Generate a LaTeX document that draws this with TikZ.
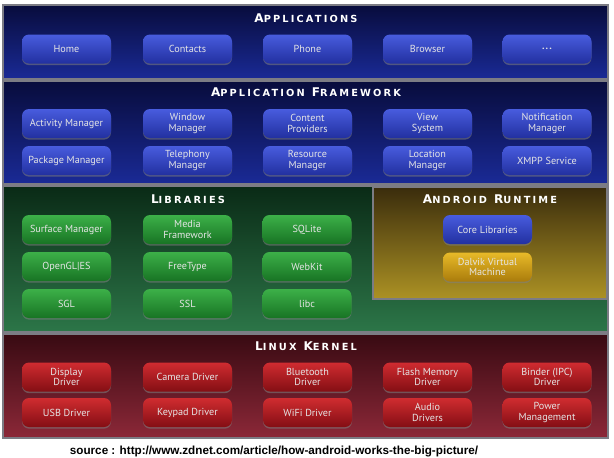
\documentclass[tikz,border=0pt]{standalone}
\usepackage{fontspec}
\setmainfont{PT Sans}
\newfontfamily\ttlfont[LetterSpace=22]{DejaVu Sans}
\newfontfamily\srcfont{Liberation Sans}
\usetikzlibrary{shadows}
\newcommand\ttlw[2]{{\ttlfont\bfseries\fontsize{12}{12}\selectfont #1\fontsize{9.8}{9.8}\selectfont #2}}
\newcommand\ttlgap{\hspace{7pt}}
\definecolor{frameg}{HTML}{7C7C84}
\tikzset{
  layer/.style={draw=frameg, line width=1.6pt},
  ttl/.style={text=white, inner sep=0pt, anchor=center},
  comp/.style={rounded corners=7pt, minimum width=89pt, minimum height=29pt, inner sep=1pt,
    text=white!90!black, align=center, font=\fontsize{10.2}{10.8}\selectfont,
    drop shadow={shadow xshift=0pt, shadow yshift=-1.6pt, opacity=0.55}},
  bluebox/.style={comp, top color={rgb,255:red,72;green,92;blue,222}, bottom color={rgb,255:red,34;green,48;blue,160}},
  greenbox/.style={comp, top color={rgb,255:red,60;green,176;blue,72}, bottom color={rgb,255:red,24;green,116;blue,36}},
  redbox/.style={comp, top color={rgb,255:red,208;green,44;blue,48}, bottom color={rgb,255:red,132;green,14;blue,20}},
  goldbox/.style={comp, top color={rgb,255:red,232;green,186;blue,40}, bottom color={rgb,255:red,170;green,124;blue,12}},
}
\begin{document}
\begin{tikzpicture}[x=1pt,y=-1pt]
\useasboundingbox (0,0) rectangle (614,458);
\fill[white] (0,0) rectangle (614,458);
% layers
\shade[layer, top color={rgb,255:red,8;green,12;blue,60}, bottom color={rgb,255:red,26;green,42;blue,150}] (3,5) rectangle (608,79);
\shade[layer, top color={rgb,255:red,8;green,12;blue,60}, bottom color={rgb,255:red,26;green,42;blue,150}] (3,81) rectangle (608,184);
\shade[layer, top color={rgb,255:red,10;green,42;blue,22}, bottom color={rgb,255:red,44;green,118;blue,72}] (3,186) rectangle (608,332);
\shade[layer, top color={rgb,255:red,58;green,44;blue,12}, bottom color={rgb,255:red,172;green,146;blue,36}] (373,187) rectangle (607,299);
\shade[layer, top color={rgb,255:red,56;green,10;blue,18}, bottom color={rgb,255:red,140;green,40;blue,56}] (3,334) rectangle (608,438);
% titles
\node[ttl] (tapp) at (306,18) {\ttlw{A}{PPLICATIONS}};
\node[ttl] (tfw) at (306,92) {\ttlw{A}{PPLICATION}\ttlgap\ttlw{F}{RAMEWORK}};
\node[ttl] (tlib) at (188,199) {\ttlw{L}{IBRARIES}};
\node[ttl] (trt) at (490,199) {\ttlw{A}{NDROID}\ttlgap\ttlw{R}{UNTIME}};
\node[ttl] (tker) at (306,346) {\ttlw{L}{INUX}\ttlgap\ttlw{K}{ERNEL}};
% applications
\node[bluebox] (home) at (66.5,49) {Home};
\node[bluebox] (contacts) at (187.5,49) {Contacts};
\node[bluebox] (phone) at (307.5,49) {Phone};
\node[bluebox] (browser) at (427.5,49) {Browser};
\node[bluebox] (more) at (547,49) {\textbf{.\hspace{1pt}.\hspace{1pt}.}};
% framework
\node[bluebox] (am) at (66.5,123.5) {Activity Manager};
\node[bluebox] (wm) at (187.5,123.5) {Window\\Manager};
\node[bluebox] (cp) at (307.5,123.5) {Content\\Providers};
\node[bluebox] (vs) at (427.5,123.5) {View\\System};
\node[bluebox] (nm) at (547,123.5) {Notification\\Manager};
\node[bluebox] (pm) at (66.5,160.5) {Package Manager};
\node[bluebox] (tm) at (187.5,160.5) {Telephony\\Manager};
\node[bluebox] (rm) at (307.5,160.5) {Resource\\Manager};
\node[bluebox] (lm) at (427.5,160.5) {Location\\Manager};
\node[bluebox] (xmpp) at (547,160.5) {XMPP Service};
% libraries
\node[greenbox] (sm) at (66.5,229.5) {Surface Manager};
\node[greenbox] (mf) at (187.5,229.5) {Media\\Framework};
\node[greenbox] (sql) at (307,229.5) {SQLite};
\node[greenbox] (gl) at (66.5,266.5) {OpenGL|ES};
\node[greenbox] (ft) at (187.5,266.5) {FreeType};
\node[greenbox] (wk) at (307,266.5) {WebKit};
\node[greenbox] (sgl) at (66.5,303.5) {SGL};
\node[greenbox] (ssl) at (187.5,303.5) {SSL};
\node[greenbox] (libc) at (307,303.5) {libc};
% runtime
\node[bluebox] (core) at (487.5,229.5) {Core Libraries};
\node[goldbox] (dvm) at (487.5,267) {Dalvik Virtual\\Machine};
% kernel
\node[redbox] (dd) at (66.5,377) {Display\\Driver};
\node[redbox] (cd) at (187.5,377) {Camera Driver};
\node[redbox] (bd) at (307.5,377) {Bluetooth\\Driver};
\node[redbox] (fd) at (427.5,377) {Flash Memory\\Driver};
\node[redbox] (ipc) at (547,377) {Binder (IPC)\\Driver};
\node[redbox] (usb) at (66.5,412.5) {USB Driver};
\node[redbox] (kd) at (187.5,412.5) {Keypad Driver};
\node[redbox] (wifi) at (307.5,412.5) {WiFi Driver};
\node[redbox] (ad) at (427.5,412.5) {Audio\\Drivers};
\node[redbox] (pwr) at (547,412.5) {Power\\Management};
% source
\node[inner sep=0pt, font=\srcfont\bfseries\fontsize{11.7}{12}\selectfont] (src) at (274,451) {source : http://www.zdnet.com/article/how-android-works-the-big-picture/};
\end{tikzpicture}
\end{document}
